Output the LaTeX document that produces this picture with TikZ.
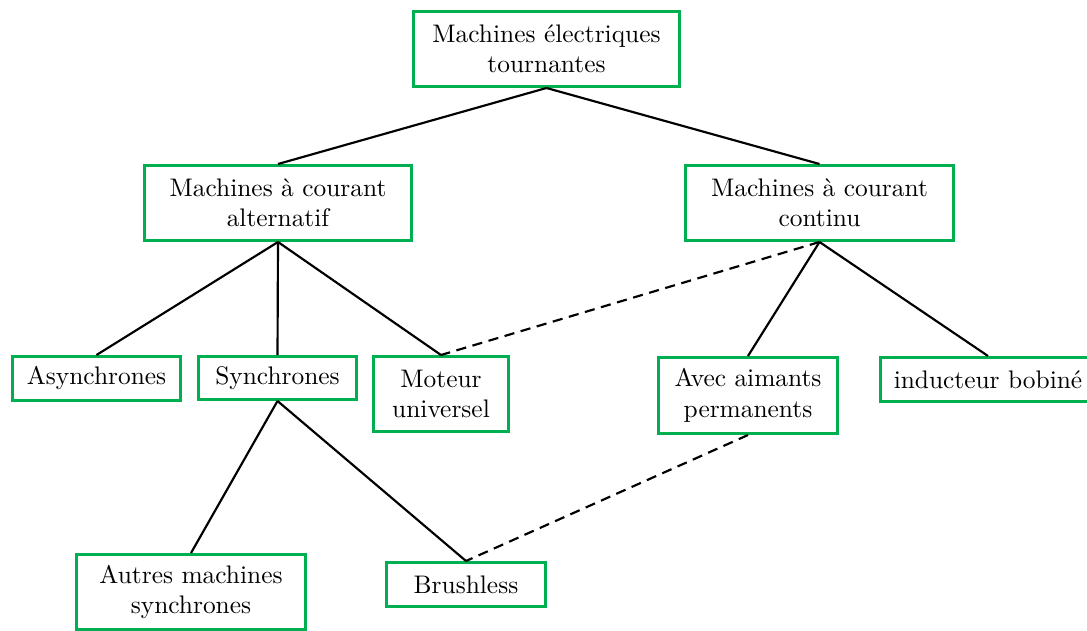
\documentclass[tikz,border=0pt]{standalone}
\definecolor{boxgreen}{RGB}{0,176,80}
\begin{document}
\begin{tikzpicture}[x=0.3937pt,y=-0.3937pt,
  box/.style={draw=boxgreen,line width=1.2pt,align=center,inner sep=0pt,font=\normalsize},
  link/.style={line width=0.85pt,black},
  dlink/.style={line width=0.85pt,black,dash pattern=on 4pt off 2.6pt}]
\useasboundingbox (0,0) rectangle (1087,631);
\node[box,minimum width=104.7pt,minimum height=29.5pt] (top) at (546.5,49) {Machines électriques\\tournantes};
\node[box,minimum width=105.1pt,minimum height=29.5pt] (alt) at (278,203) {Machines à courant\\alternatif};
\node[box,minimum width=105.5pt,minimum height=29.5pt] (cont) at (819.5,203) {Machines à courant\\continu};
\node[box,minimum width=66.1pt,minimum height=17.3pt] (async) at (96.5,378.5) {Asynchrones};
\node[box,minimum width=62.2pt,minimum height=16.9pt] (sync) at (277.5,378) {Synchrones};
\node[box,minimum width=53.1pt,minimum height=29.5pt] (mot) at (441,394) {Moteur\\universel};
\node[box,minimum width=70.5pt,minimum height=29.9pt] (avec) at (748,395.5) {Avec aimants\\permanents};
\node[box,minimum width=84.6pt,minimum height=17.3pt] (ind) at (988,379.5) {inducteur bobiné};
\node[box,minimum width=90.2pt,minimum height=29.5pt] (autres) at (191,592) {Autres machines\\synchrones};
\node[box,minimum width=62.6pt,minimum height=17.3pt] (brush) at (466,584.5) {Brushless};
\draw[link] (top.south) -- (alt.north);
\draw[link] (top.south) -- (cont.north);
\draw[link] (alt.south) -- (async.north);
\draw[link] (alt.south) -- (sync.north);
\draw[link] (alt.south) -- (mot.north);
\draw[link] (cont.south) -- (avec.north);
\draw[link] (cont.south) -- (ind.north);
\draw[link] (sync.south) -- (autres.north);
\draw[link] (sync.south) -- (brush.north);
\draw[dlink] (cont.south) -- (mot.north);
\draw[dlink] (avec.south) -- (brush.north);
\end{tikzpicture}
\end{document}
